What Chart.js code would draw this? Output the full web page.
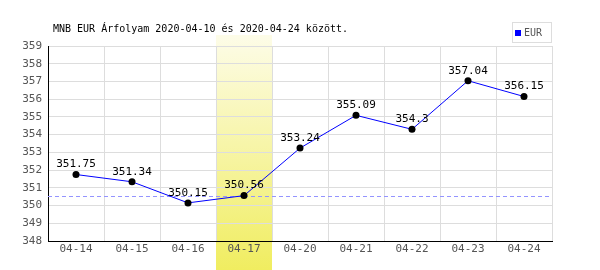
<!DOCTYPE html>
<html>
<head>
<meta charset="utf-8">
<script src="https://cdn.jsdelivr.net/npm/chart.js@4/dist/chart.umd.min.js"></script>
<style>
  html, body { margin: 0; padding: 0; background: #ffffff; }
  #myChart { display: block; }
</style>
</head>
<body>
<canvas id="myChart" width="600" height="270"></canvas>
<script>
const title = "MNB EUR Árfolyam 2020-04-10 és 2020-04-24 között.";
const days = ["04-14", "04-15", "04-16", "04-17", "04-20", "04-21", "04-22", "04-23", "04-24"];
const eur = [351.75, 351.34, 350.15, 350.56, 353.24, 355.09, 354.3, 357.04, 356.15];
const highlightIndex = 3;
const refValue = 350.56;

const mono = "'DejaVu Sans Mono', monospace";

// yellow band behind the highlighted day, drawn before the grid
const bandPlugin = {
    id: 'band',
    beforeDraw(chart) {
        const ctx = chart.ctx;
        const x = chart.scales.x;
        const half = (x.getPixelForValue(1) - x.getPixelForValue(0)) / 2;
        const cx = x.getPixelForValue(highlightIndex);
        const g = ctx.createLinearGradient(0, 35, 0, 270);
        g.addColorStop(0, 'rgba(253,252,232,1)');
        g.addColorStop(1, 'rgba(240,237,96,1)');
        ctx.save();
        ctx.fillStyle = g;
        ctx.fillRect(Math.round(cx - half), 35, Math.round(half * 2), 235);
        ctx.restore();
    },
    beforeDatasetsDraw(chart) {
        const ctx = chart.ctx;
        const a = chart.chartArea;
        const y = Math.round(chart.scales.y.getPixelForValue(refValue)) + 0.5;
        ctx.save();
        ctx.strokeStyle = '#9494ff';
        ctx.lineWidth = 1;
        ctx.setLineDash([4, 3]);
        ctx.beginPath();
        ctx.moveTo(a.left, y);
        ctx.lineTo(a.right, y);
        ctx.stroke();
        ctx.restore();
    },
    afterDatasetsDraw(chart) {
        const ctx = chart.ctx;
        const meta = chart.getDatasetMeta(0);
        ctx.save();
        ctx.font = '11px ' + mono;
        ctx.fillStyle = '#000';
        ctx.textAlign = 'center';
        ctx.textBaseline = 'middle';
        meta.data.forEach((pt, i) => {
            ctx.fillText(String(eur[i]), pt.x, pt.y - 10);
        });
        ctx.restore();
    },
    afterDraw(chart) {
        const ctx = chart.ctx;
        ctx.save();
        // title
        ctx.font = '10px ' + mono;
        ctx.fillStyle = '#000';
        ctx.textBaseline = 'middle';
        ctx.textAlign = 'left';
        ctx.fillText(title, 53, 29);
        // legend
        ctx.strokeStyle = '#dddddd';
        ctx.lineWidth = 1;
        ctx.strokeRect(512.5, 22.5, 39, 20);
        ctx.fillStyle = '#0000ff';
        ctx.fillRect(515, 30, 6, 6);
        ctx.fillStyle = '#555';
        ctx.fillText('EUR', 524, 33);
        ctx.restore();
    }
};

new Chart(document.getElementById('myChart'), {
    type: 'line',
    data: {
        labels: days,
        datasets: [{
            label: 'EUR',
            data: eur,
            borderColor: '#0000ff',
            borderWidth: 1,
            pointBackgroundColor: '#000',
            pointBorderColor: '#000',
            pointRadius: 3.5,
            pointBorderWidth: 0,
            tension: 0
        }]
    },
    options: {
        responsive: false,
        animation: false,
        events: [],
        layout: { padding: { left: 0, right: 48, top: 46, bottom: 0 } },
        plugins: {
            legend: { display: false },
            tooltip: { enabled: false }
        },
        scales: {
            x: {
                offset: true,
                grid: { offset: true, color: '#dddddd', drawTicks: false },
                border: { color: '#000', width: 1 },
                ticks: { color: '#555', font: { family: mono, size: 11 }, padding: 2, maxRotation: 0 },
                afterFit(s) { s.height = 29; }
            },
            y: {
                min: 348,
                max: 359,
                grid: { color: '#dddddd', drawTicks: false },
                border: { color: '#000', width: 1 },
                ticks: { stepSize: 1, color: '#555', font: { family: mono, size: 11 }, padding: 6 },
                afterFit(s) { s.width = 48; }
            }
        }
    },
    plugins: [bandPlugin]
});
</script>
</body>
</html>
